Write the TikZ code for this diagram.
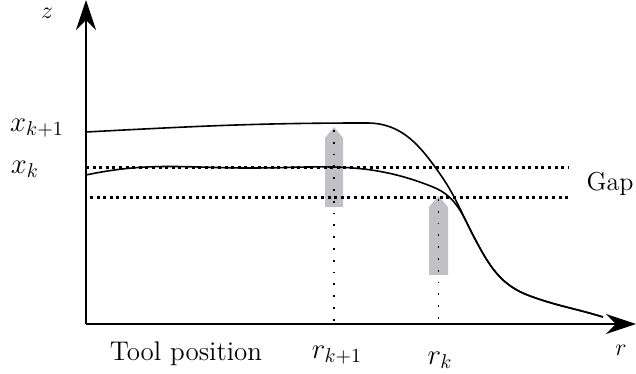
\documentclass[tikz,border=0pt]{standalone}
\usepackage{amsmath,amssymb}
\usepackage{xcolor}
\usepackage{tikz}
\usetikzlibrary{calc,arrows.meta}
\definecolor{toolgray}{HTML}{C0C0C5}
\newcommand{\toolshape}[4]{\fill[toolgray] (#1,#4)--(#2,#4)--(#2,#3-11)--({(#1+#2)/2},#3)--(#1,#3-11)--cycle;}
\newcommand{\profiletail}{to[out=-62,in=160] (530,78) to[out=-20,in=163] (603,57)}

\begin{document}
\begin{tikzpicture}[x=0.5pt,y=0.5pt]
\useasboundingbox (0,0) rectangle (636,374);
\toolshape{325}{343}{247}{167} \toolshape{429}{448}{178}{99}
\coordinate (O) at (86,50); \coordinate (ztop) at (86,374); \coordinate (rend) at (636,50);
\coordinate (t1) at (334,244); \coordinate (b1) at (334,52);
\coordinate (t2) at (438.5,175); \coordinate (b2) at (438.5,50);
\coordinate (g1a) at (86,206); \coordinate (g1b) at (569,206);
\coordinate (g2a) at (90,176); \coordinate (g2b) at (569,176);
\draw[line width=0.9pt,dash pattern=on 0.9pt off 5pt] (t1)--(b1); \draw[line width=0.9pt,dash pattern=on 0.9pt off 5pt] (t2)--(b2);
\draw[line width=1.5pt,dash pattern=on 1.5pt off 1.8pt] (g1a)--(g1b); \draw[line width=1.5pt,dash pattern=on 1.5pt off 1.8pt] (g2a)--(g2b);
\draw[line width=0.8pt] (86,242) to[out=3,in=180] (367,251) to[out=0,in=125] (440,200) to[out=-55,in=118] (475,135) \profiletail;
\draw[line width=0.8pt] (86,199) to[out=12,in=180] (250,206) to[out=0,in=158] (433,187) to[out=-22,in=118] (475,135) \profiletail;
\draw[line width=1.3pt,-{Stealth[length=15pt,width=10pt]}] (O)--(ztop);
\draw[line width=1.3pt,-{Stealth[length=15pt,width=10pt]}] (O)--(rend);
\node[font=\large] (zlab) at (47,361) {$z$}; \node[font=\large] (rlab) at (621,24) {$r$};
\node[font=\Large] (xk1) at (37,246) {$x_{k+1}$}; \node[font=\Large] (xk) at (25,205) {$x_k$};
\node[font=\fontsize{13}{15}\selectfont] (gap) at (610,190) {Gap};
\node[font=\fontsize{13.5}{16}\selectfont] (tool) at (186,20) {Tool position};
\node[font=\Large] (rk1) at (337,19) {$r_{k+1}$}; \node[font=\Large] (rk) at (440,14) {$r_k$};
\end{tikzpicture}
\end{document}
